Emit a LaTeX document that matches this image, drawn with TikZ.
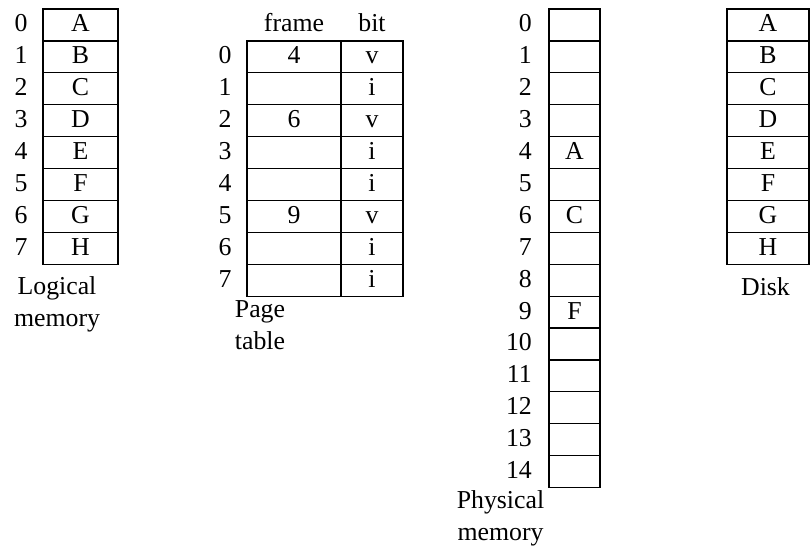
\documentclass[tikz,border=0pt]{standalone}
\usepackage{fontspec}
\setmainfont{Liberation Serif}
\usepackage{tikz}
\usetikzlibrary{positioning}
\tikzset{
  cellbox/.style={draw, line width=1.2pt, inner sep=0pt, minimum height=31.9pt,
    text height=17pt, text depth=3pt},
  logbox/.style={cellbox, minimum width=75pt},
  framebox/.style={cellbox, minimum width=94pt},
  bitbox/.style={cellbox, minimum width=62pt},
  physbox/.style={cellbox, minimum width=51pt},
  diskbox/.style={cellbox, minimum width=82pt},
  idx/.style={inner sep=0pt, text height=17pt, text depth=3pt},
  caption/.style={inner sep=0pt, align=center, anchor=north}
}

\begin{document}
\begin{tikzpicture}[x=1pt, y=-1pt, font=\fontsize{25.8}{32}\selectfont]
    \useasboundingbox (0,0) rectangle (811,552);
    % logical memory
    \foreach \ch [count=\k from 0] in {A,B,C,D,E,F,G,H} {
      \node[idx] (lmi\k) at (21, 24.95+31.9*\k) {\k};
      \node[logbox] (lm\k) at (80.5, 24.95+31.9*\k) {\ch};
    }
    \node[caption] (lmcap) at (57, 276.4) {Logical\\memory};
    % page table
    \node[idx] (pthf) at (294, 24.95) {frame};
    \node[idx] (pthb) at (372, 24.95) {bit};
    \foreach \fr/\bt [count=\k from 0] in {4/v,{}/i,6/v,{}/i,{}/i,9/v,{}/i,{}/i} {
      \node[idx] (pti\k) at (225, 56.85+31.9*\k) {\k};
      \node[framebox] (ptf\k) at (294, 56.85+31.9*\k) {\fr};
      \node[bitbox] (ptb\k) at (372, 56.85+31.9*\k) {\bt};
    }
    \node[caption] (ptcap) at (260, 300.4) {Page\\table};
    % physical memory
    \foreach \ch [count=\k from 0] in {{},{},{},{},A,{},C,{},{},F,{},{},{},{},{}} {
      \node[idx, anchor=east] (pmi\k) at (532, 24.95+31.9*\k) {\k};
      \node[physbox] (pm\k) at (574.5, 24.95+31.9*\k) {\ch};
    }
    \node[caption] (pmcap) at (500.5, 490.4) {Physical\\memory};
    % disk
    \foreach \ch [count=\k from 0] in {A,B,C,D,E,F,G,H} {
      \node[diskbox] (dk\k) at (768, 24.95+31.9*\k) {\ch};
    }
    \node[caption] (dkcap) at (765.5, 277.4) {Disk};
  \end{tikzpicture}
\end{document}
